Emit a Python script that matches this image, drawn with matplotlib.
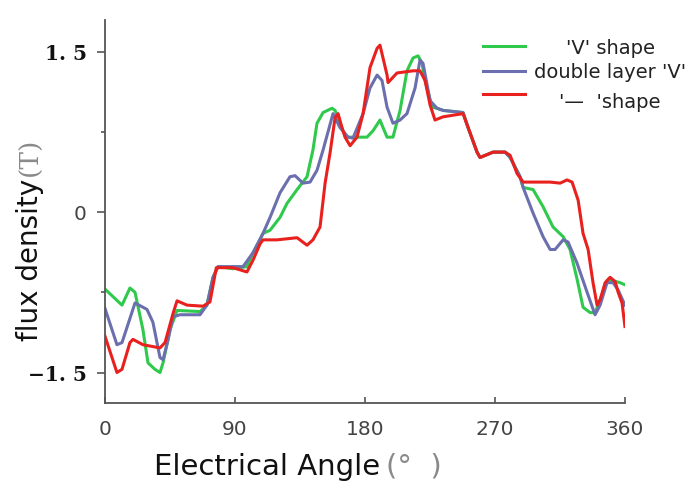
import matplotlib.pyplot as plt
from matplotlib.lines import Line2D

# electrical angle (deg) and flux density (T)
v_deg = [0, 11.8, 17.3, 20.8, 26.3, 29.8, 34.6, 38.1, 40.2, 45, 49.9, 65.8, 70.6,
         74.8, 78.3, 88.6, 98.3, 102.5, 107.3, 109.4, 114.3, 121.2, 126, 133, 139.9,
         144, 146.8, 151, 157.2, 159.3, 164.8, 167.6, 173.1, 181.4, 185.6, 190.4,
         192.5, 195.3, 199.4, 204.3, 209.1, 213.3, 216.8, 219.5, 221.6, 226.5, 229.9,
         234.1, 247.9, 251.4, 257.6, 259.7, 268.7, 277, 280.5, 287.4, 289.5, 296.4,
         303.3, 310.2, 317.2, 322, 326.9, 331, 335.9, 339.3, 342.8, 348.3, 356.6, 360]
v_b = [-0.72, -0.87, -0.71, -0.75, -1.10, -1.41, -1.47, -1.50, -1.41, -1.10, -0.92,
       -0.93, -0.87, -0.61, -0.51, -0.53, -0.51, -0.38, -0.26, -0.20, -0.17, -0.05,
       0.08, 0.21, 0.33, 0.58, 0.83, 0.93, 0.97, 0.95, 0.76, 0.70, 0.70, 0.70, 0.76,
       0.86, 0.79, 0.70, 0.70, 0.95, 1.32, 1.44, 1.46, 1.39, 1.23, 0.98, 0.97, 0.95,
       0.93, 0.79, 0.56, 0.51, 0.56, 0.56, 0.51, 0.33, 0.23, 0.21, 0.05, -0.14, -0.23,
       -0.35, -0.63, -0.89, -0.94, -0.94, -0.82, -0.63, -0.66, -0.68]

dv_deg = [0, 8.3, 11.8, 20.8, 29.1, 33.2, 38.1, 40.2, 43.6, 47.1, 51.9, 65.8, 70.6,
          74.8, 78.3, 95.6, 102.5, 109.4, 114.3, 121.2, 128.1, 131.6, 137.1, 142,
          146.8, 151, 157.9, 162.7, 168.3, 171.7, 178.7, 183.5, 188.4, 191.8, 195.3,
          199.4, 204.3, 209.1, 214.7, 218.1, 220.2, 225.1, 229.9, 234.1, 247.9, 251.4,
          257.6, 259.7, 268.7, 277, 280.5, 287.4, 289.5, 296.4, 303.3, 308.2, 311.6,
          317.2, 320.6, 326.9, 333.8, 339.3, 342.8, 347.6, 351.8, 355.3, 360]
dv_b = [-0.90, -1.24, -1.22, -0.85, -0.91, -1.03, -1.36, -1.38, -1.20, -0.98, -0.96,
        -0.96, -0.87, -0.61, -0.51, -0.51, -0.38, -0.20, -0.05, 0.18, 0.33, 0.34, 0.27,
        0.28, 0.39, 0.58, 0.92, 0.79, 0.70, 0.69, 0.92, 1.16, 1.28, 1.23, 0.98, 0.83,
        0.86, 0.92, 1.16, 1.42, 1.39, 1.04, 0.97, 0.95, 0.93, 0.79, 0.56, 0.51, 0.56,
        0.56, 0.51, 0.33, 0.23, -0.01, -0.23, -0.35, -0.35, -0.26, -0.28, -0.48, -0.75,
        -0.96, -0.87, -0.66, -0.66, -0.73, -0.87]

line_deg = [0, 8.3, 11.8, 17.3, 19.4, 26.3, 38.1, 41.6, 47.1, 49.9, 56.8, 67.9, 72.7,
            77.1, 88.6, 98.3, 102.5, 107.3, 109.4, 119.1, 133, 139.9, 144, 148.9, 152.4,
            155.8, 159.3, 161.4, 164.1, 166.2, 169.7, 174.5, 178.7, 183.5, 188.4, 190.4,
            192.5, 195.3, 196, 202.2, 213.3, 218.1, 221.6, 225.1, 228.5, 234.1, 247.9,
            251.4, 257.6, 259.7, 268.7, 277, 280.5, 285.3, 289.5, 308.2, 315.1, 319.9,
            323.4, 327.6, 331, 334.5, 337.9, 340.7, 342.8, 346.3, 349.7, 353.2, 355.3,
            358, 360]
line_b = [-1.16, -1.50, -1.47, -1.22, -1.19, -1.24, -1.27, -1.22, -0.95, -0.83, -0.87,
          -0.88, -0.84, -0.52, -0.52, -0.56, -0.45, -0.30, -0.26, -0.26, -0.24, -0.31,
          -0.26, -0.14, 0.27, 0.55, 0.88, 0.92, 0.79, 0.70, 0.62, 0.70, 0.92, 1.35,
          1.53, 1.56, 1.44, 1.28, 1.21, 1.30, 1.32, 1.32, 1.23, 1.00, 0.86, 0.89, 0.92,
          0.79, 0.56, 0.51, 0.56, 0.56, 0.53, 0.36, 0.28, 0.28, 0.27, 0.30, 0.28, 0.11,
          -0.20, -0.35, -0.66, -0.87, -0.82, -0.66, -0.61, -0.65, -0.75, -0.85, -1.07]

labels = ["'V' shape", "double layer 'V'", "'—  'shape"]
colors = ["#2fc94c", "#6b6fae", "#e8211f"]

x_ticks = [0, 90, 180, 270, 360]
y_ticks = [-1.5, 0, 1.5]
y_tick_labels = ["−1. 5", "0", "1. 5"]

fig = plt.figure(figsize=(6.86, 4.83), dpi=100)
ax = fig.add_axes([0.153, 0.1656, 0.758, 0.793])

series = [(v_deg, v_b), (dv_deg, dv_b), (line_deg, line_b)]
for (xs, ys), c in zip(series, colors):
    ax.plot(xs, ys, color=c, lw=2.2, solid_joinstyle='round')

ax.set_xlim(0, 360)
ax.set_ylim(-1.785, 1.795)

for s in ['top', 'right']:
    ax.spines[s].set_visible(False)
for s in ['left', 'bottom']:
    ax.spines[s].set_color('#555555')
    ax.spines[s].set_linewidth(1.3)

ax.set_xticks(x_ticks, [str(t) for t in x_ticks])
ax.set_yticks(y_ticks, y_tick_labels)
ax.set_yticks([-0.75, 0.75], minor=True)
ax.tick_params(axis='x', direction='in', length=4, width=1.2, color='#555555',
               pad=12, labelsize=14.5, labelcolor='#444444')
ax.tick_params(axis='y', which='major', direction='out', length=6, width=1.2,
               color='#555555', pad=7)
ax.tick_params(axis='y', which='minor', direction='out', length=3, width=1.2,
               color='#555555')

for t in ax.get_yticklabels():
    if t.get_text() == "0":
        t.set_fontfamily('DejaVu Sans')
        t.set_fontsize(14.5)
        t.set_color('#444444')
    else:
        t.set_fontfamily('DejaVu Serif')
        t.set_fontweight('bold')
        t.set_fontsize(14.5)
        t.set_color('#111111')

# axis titles, main part dark and the unit in grey
W, H = 686.0, 483.0
fig.text(30 / W, 1 - 260 / H, "flux density", rotation=90, ha='center', va='center',
         fontsize=20, color='#111111')
fig.text(30 / W, 1 - 157 / H, "(T)", rotation=90, ha='center', va='center',
         fontsize=19, color='#8a8a8a', family='DejaVu Serif')
fig.text(267 / W, 1 - 475 / H, "Electrical Angle", ha='center', va='baseline',
         fontsize=21, color='#111111')
fig.text(414 / W, 1 - 475 / H, "(°  )", ha='center', va='baseline',
         fontsize=21, color='#8a8a8a')

# legend, labels centred in their column
rows_line = [46, 71, 94]
rows_text = [48, 73, 103]
for lab, c, yl, yt in zip(labels, colors, rows_line, rows_text):
    fig.add_artist(Line2D([483 / W, 525 / W], [1 - yl / H, 1 - yl / H], color=c, lw=2.2))
    fig.text(610 / W, 1 - yt / H, lab, ha='center', va='center', fontsize=14,
             color='#222222')

fig.savefig('out.png', dpi=100)
